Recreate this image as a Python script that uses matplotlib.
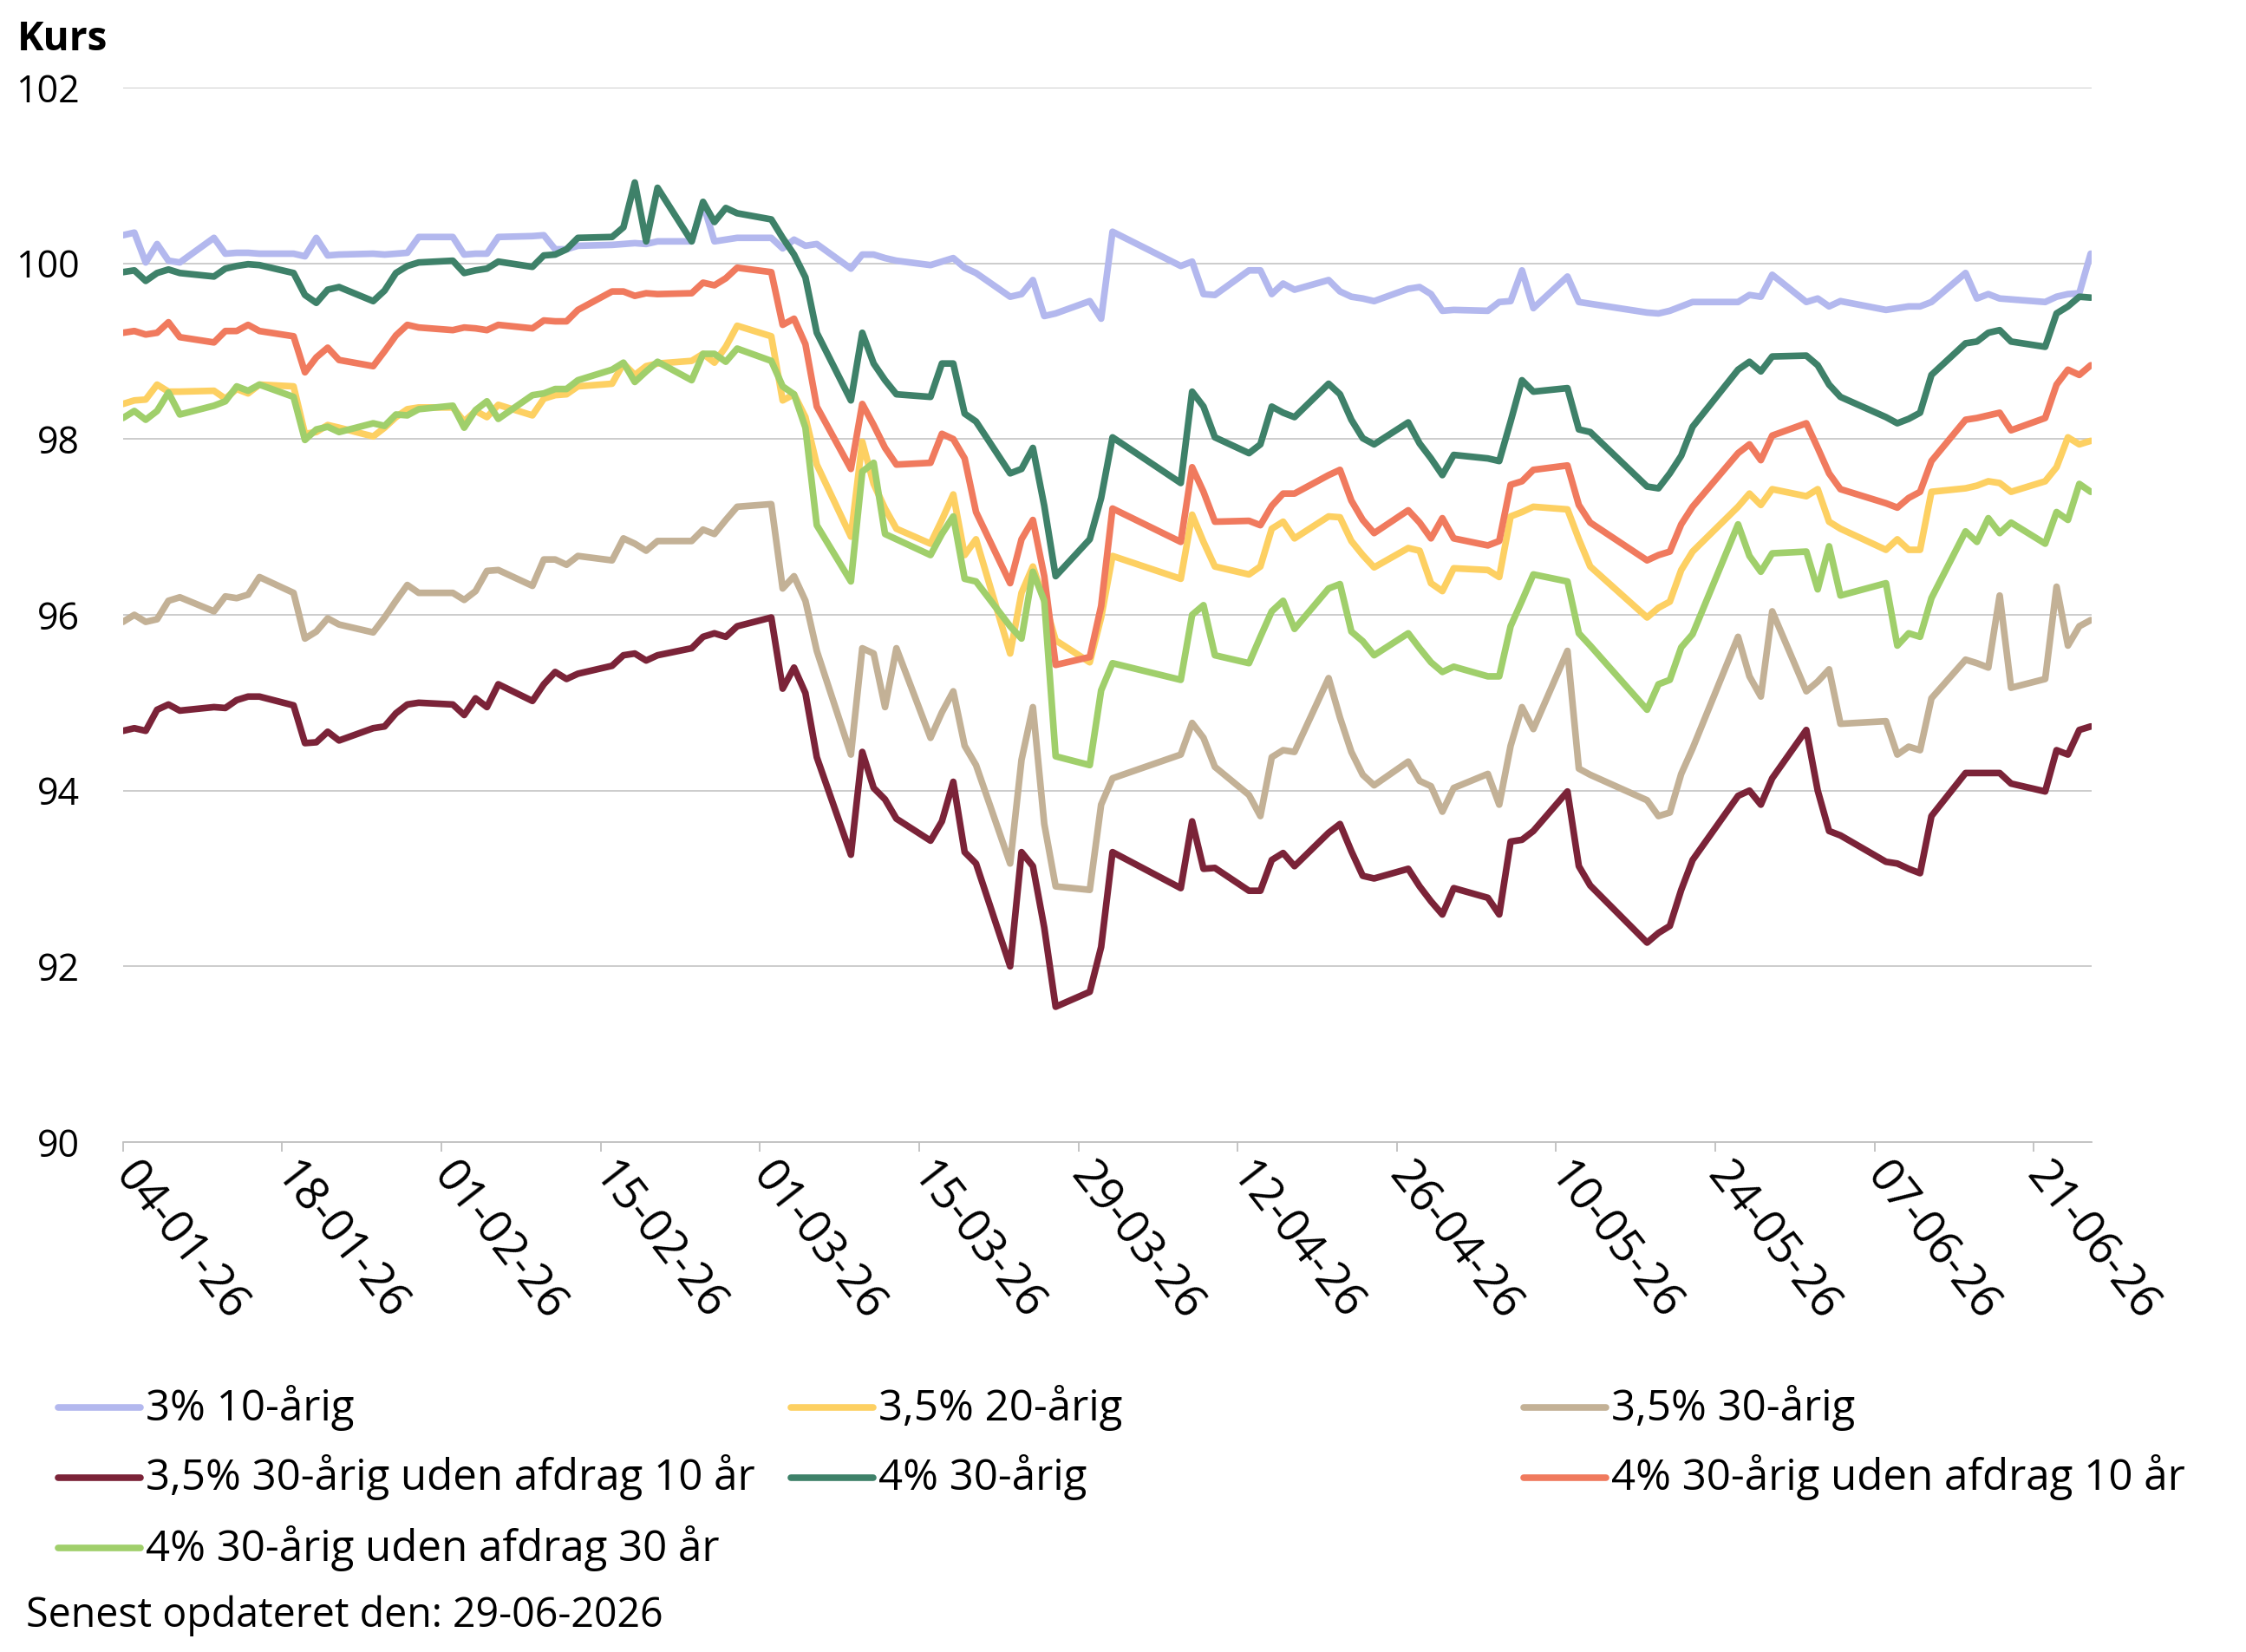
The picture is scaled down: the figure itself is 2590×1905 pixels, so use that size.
import numpy as np
import pandas as pd
import matplotlib
matplotlib.use('Agg')
import matplotlib.pyplot as plt
import matplotlib.dates as mdates
from matplotlib.lines import Line2D

plt.rcParams['font.family'] = ['Open Sans', 'DejaVu Sans']

# trading days shown in the chart (Danish bank holidays removed)
holidays = ['2026-04-02', '2026-04-03', '2026-04-06', '2026-05-14',
            '2026-05-15', '2026-05-25', '2026-06-05']
dates = pd.DatetimeIndex(['2026-01-04']).append(pd.bdate_range('2026-01-05', '2026-06-26'))
dates = dates.drop(pd.to_datetime(holidays))

labels = ['3% 10-årig', '3,5% 20-årig', '3,5% 30-årig',
          '3,5% 30-årig uden afdrag 10 år', '4% 30-årig',
          '4% 30-årig uden afdrag 10 år', '4% 30-årig uden afdrag 30 år']
colors = ['#B3B8EE', '#FDD062', '#C3B196', '#7B2338', '#3E8169', '#F07A5E', '#A0CF6B']

r3_10 = [100.32, 100.35, 100.01, 100.22, 100.03, 100.01,
         100.29, 100.11, 100.12, 100.12, 100.11,
         100.11, 100.08, 100.29, 100.09, 100.10,
         100.11, 100.10, 100.11, 100.12, 100.30,
         100.30, 100.10, 100.11, 100.11, 100.30,
         100.31, 100.32, 100.16, 100.16, 100.20,
         100.21, 100.22, 100.23, 100.22, 100.25,
         100.25, 100.68, 100.25, 100.27, 100.29,
         100.29, 100.17, 100.27, 100.20, 100.22,
         99.94, 100.10, 100.10, 100.06, 100.03,
         99.98, 100.02, 100.06, 99.95, 99.89,
         99.62, 99.65, 99.81, 99.40, 99.43,
         99.57, 99.37, 100.36,
         99.97, 100.02, 99.65, 99.64,
         99.92, 99.92, 99.65, 99.77, 99.70,
         99.81, 99.68, 99.62, 99.60, 99.57,
         99.71, 99.73, 99.65, 99.46, 99.47,
         99.46, 99.56, 99.57, 99.92, 99.49,
         99.85, 99.56, 99.54,
         99.44, 99.43, 99.46, 99.51, 99.56,
         99.56, 99.64, 99.62, 99.87,
         99.56, 99.60, 99.51, 99.57,
         99.47, 99.49, 99.51, 99.51, 99.56,
         99.89, 99.60, 99.65, 99.60, 99.59,
         99.56, 99.62, 99.65, 99.66, 100.11]

r35_20 = [98.40, 98.44, 98.45, 98.62, 98.54, 98.54,
          98.55, 98.46, 98.57, 98.52, 98.62,
          98.60, 98.06, 98.08, 98.16, 98.13,
          98.03, 98.13, 98.25, 98.34, 98.36,
          98.36, 98.20, 98.32, 98.25, 98.39,
          98.27, 98.46, 98.50, 98.51, 98.60,
          98.63, 98.86, 98.73, 98.83, 98.86,
          98.89, 98.97, 98.87, 99.05, 99.29,
          99.17, 98.44, 98.51, 98.25, 97.71,
          96.89, 97.97, 97.49, 97.21, 96.98,
          96.81, 97.08, 97.37, 96.68, 96.86,
          95.56, 96.25, 96.55, 96.16, 95.71,
          95.46, 95.97, 96.67,
          96.41, 97.14, 96.83, 96.55,
          96.46, 96.55, 96.98, 97.06, 96.87,
          97.12, 97.11, 96.84, 96.68, 96.54,
          96.76, 96.73, 96.36, 96.27, 96.53,
          96.51, 96.43, 97.12, 97.17, 97.23,
          97.20, 96.86, 96.55,
          95.97, 96.08, 96.15, 96.51, 96.72,
          97.23, 97.38, 97.25, 97.43,
          97.35, 97.43, 97.06, 96.98,
          96.74, 96.86, 96.74, 96.74, 97.40,
          97.44, 97.47, 97.52, 97.50, 97.40,
          97.52, 97.68, 98.02, 97.94, 97.98]

r35_30 = [95.92, 96.00, 95.92, 95.95, 96.16, 96.20,
          96.04, 96.21, 96.19, 96.23, 96.43,
          96.25, 95.73, 95.81, 95.96, 95.89,
          95.80, 95.97, 96.16, 96.34, 96.25,
          96.25, 96.17, 96.27, 96.50, 96.51,
          96.33, 96.63, 96.63, 96.57, 96.67,
          96.62, 96.87, 96.81, 96.73, 96.84,
          96.84, 96.97, 96.92, 97.08, 97.23,
          97.26, 96.30, 96.44, 96.16, 95.59,
          94.41, 95.62, 95.56, 94.95, 95.62,
          94.60, 94.89, 95.13, 94.51, 94.29,
          93.17, 94.35, 94.95, 93.62, 92.91,
          92.87, 93.84, 94.14,
          94.41, 94.77, 94.60, 94.27,
          93.95, 93.71, 94.38, 94.46, 94.44,
          95.28, 94.83, 94.44, 94.18, 94.06,
          94.33, 94.11, 94.05, 93.76, 94.03,
          94.19, 93.84, 94.51, 94.95, 94.70,
          95.59, 94.25, 94.18,
          93.89, 93.71, 93.75, 94.19, 94.48,
          95.75, 95.30, 95.07, 96.04,
          95.13, 95.24, 95.38, 94.76,
          94.79, 94.41, 94.50, 94.46, 95.05,
          95.49, 95.45, 95.40, 96.22, 95.17,
          95.27, 96.32, 95.65, 95.87, 95.94]

r35_30_io10 = [94.68, 94.71, 94.68, 94.92, 94.98, 94.91,
               94.95, 94.94, 95.03, 95.07, 95.07,
               94.97, 94.54, 94.55, 94.67, 94.57,
               94.71, 94.73, 94.88, 94.98, 95.00,
               94.98, 94.86, 95.05, 94.95, 95.21,
               95.02, 95.21, 95.35, 95.27, 95.33,
               95.42, 95.54, 95.56, 95.48, 95.54,
               95.62, 95.75, 95.79, 95.75, 95.87,
               95.97, 95.16, 95.40, 95.11, 94.38,
               93.27, 94.44, 94.03, 93.90, 93.68,
               93.43, 93.65, 94.10, 93.30, 93.17,
               92.00, 93.30, 93.14, 92.44, 91.54,
               91.71, 92.22, 93.30,
               92.89, 93.65, 93.11, 93.12,
               92.86, 92.86, 93.21, 93.29, 93.14,
               93.52, 93.62, 93.31, 93.03, 93.00,
               93.11, 92.91, 92.74, 92.59, 92.89,
               92.78, 92.59, 93.42, 93.44, 93.54,
               93.99, 93.14, 92.92,
               92.27, 92.38, 92.46, 92.87, 93.21,
               93.94, 94.00, 93.84, 94.14,
               94.69, 94.00, 93.54, 93.49,
               93.19, 93.17, 93.11, 93.06, 93.71,
               94.20, 94.20, 94.20, 94.20, 94.08,
               93.99, 94.46, 94.41, 94.69, 94.73]

r4_30 = [99.90, 99.92, 99.80, 99.89, 99.93, 99.89,
         99.85, 99.94, 99.97, 99.99, 99.98,
         99.89, 99.64, 99.55, 99.70, 99.73,
         99.57, 99.69, 99.89, 99.97, 100.01,
         100.03, 99.89, 99.92, 99.94, 100.02,
         99.96, 100.09, 100.10, 100.16, 100.29,
         100.30, 100.41, 100.92, 100.25, 100.86,
         100.25, 100.70, 100.47, 100.63, 100.57,
         100.50, 100.29, 100.10, 99.84, 99.21,
         98.44, 99.21, 98.86, 98.67, 98.51,
         98.48, 98.86, 98.86, 98.29, 98.20,
         97.61, 97.66, 97.90, 97.24, 96.44,
         96.86, 97.33, 98.02,
         97.50, 98.54, 98.37, 98.02,
         97.84, 97.94, 98.37, 98.30, 98.25,
         98.63, 98.51, 98.22, 98.01, 97.94,
         98.19, 97.95, 97.78, 97.59, 97.82,
         97.78, 97.75, 98.20, 98.67, 98.54,
         98.58, 98.11, 98.08,
         97.46, 97.44, 97.61, 97.81, 98.14,
         98.79, 98.88, 98.77, 98.94,
         98.95, 98.84, 98.62, 98.48,
         98.25, 98.18, 98.23, 98.30, 98.73,
         99.09, 99.11, 99.21, 99.24, 99.11,
         99.05, 99.43, 99.51, 99.62, 99.61]

r4_30_io10 = [99.21, 99.23, 99.19, 99.21, 99.33, 99.16,
              99.10, 99.23, 99.23, 99.30, 99.23,
              99.17, 98.76, 98.93, 99.04, 98.90,
              98.83, 99.00, 99.18, 99.30, 99.27,
              99.24, 99.27, 99.26, 99.24, 99.30,
              99.26, 99.35, 99.34, 99.34, 99.47,
              99.68, 99.68, 99.63, 99.66, 99.65,
              99.66, 99.78, 99.75, 99.83, 99.95,
              99.90, 99.30, 99.37, 99.08, 98.37,
              97.66, 98.40, 98.16, 97.90, 97.71,
              97.73, 98.06, 98.00, 97.78, 97.17,
              96.36, 96.86, 97.08, 96.44, 95.43,
              95.52, 96.10, 97.21,
              96.83, 97.68, 97.40, 97.06,
              97.07, 97.02, 97.24, 97.38, 97.38,
              97.59, 97.65, 97.30, 97.08, 96.93,
              97.19, 97.05, 96.87, 97.10, 96.87,
              96.79, 96.84, 97.48, 97.52, 97.65,
              97.70, 97.25, 97.05,
              96.62, 96.68, 96.72, 97.03, 97.23,
              97.84, 97.94, 97.76, 98.04,
              98.18, 97.90, 97.61, 97.43,
              97.27, 97.22, 97.33, 97.40, 97.75,
              98.22, 98.24, 98.27, 98.30, 98.10,
              98.24, 98.62, 98.79, 98.73, 98.84]

r4_30_io30 = [98.24, 98.32, 98.22, 98.32, 98.53, 98.28,
              98.38, 98.43, 98.60, 98.55, 98.62,
              98.48, 97.99, 98.11, 98.14, 98.08,
              98.18, 98.15, 98.28, 98.27, 98.34,
              98.38, 98.13, 98.33, 98.43, 98.23,
              98.50, 98.52, 98.57, 98.57, 98.67,
              98.79, 98.87, 98.65, 98.77, 98.88,
              98.67, 98.97, 98.97, 98.88, 99.03,
              98.89, 98.60, 98.51, 98.13, 97.02,
              96.38, 97.63, 97.73, 96.92, 96.86,
              96.68, 96.92, 97.12, 96.41, 96.38,
              95.87, 95.73, 96.49, 96.16, 94.39,
              94.29, 95.14, 95.45,
              95.26, 96.00, 96.11, 95.54,
              95.45, 95.75, 96.04, 96.16, 95.84,
              96.30, 96.35, 95.81, 95.70, 95.54,
              95.79, 95.62, 95.46, 95.35, 95.41,
              95.30, 95.30, 95.87, 96.16, 96.46,
              96.38, 95.79, 95.65,
              94.92, 95.21, 95.26, 95.63, 95.78,
              97.03, 96.67, 96.49, 96.70,
              96.72, 96.29, 96.78, 96.22,
              96.36, 95.65, 95.79, 95.75, 96.19,
              96.95, 96.83, 97.10, 96.93, 97.05,
              96.81, 97.17, 97.08, 97.49, 97.40]

series = [r3_10, r35_20, r35_30, r35_30_io10, r4_30, r4_30_io10, r4_30_io30]

fig = plt.figure(figsize=(25.9, 19.05), dpi=100)
ax = fig.add_axes([0.05475, 0.30866, 0.87652, 0.63832])

for vals, lab, col in zip(series, labels, colors):
    ax.plot(dates, vals, color=col, lw=5.5, label=lab,
            solid_capstyle='round', solid_joinstyle='round')

ax.set_ylim(90, 102)
ax.set_yticks(np.arange(90, 103, 2))
ax.set_xlim(pd.Timestamp('2026-01-04'), pd.Timestamp('2026-06-26 02:00'))
ax.set_xticks(pd.date_range('2026-01-04', '2026-06-26', freq='14D'))
ax.xaxis.set_major_formatter(mdates.DateFormatter('%d-%m-%y'))

ax.grid(axis='y', color='#C8C8C8', lw=1.3)
ax.set_axisbelow(True)
for s in ['top', 'right', 'left']:
    ax.spines[s].set_visible(False)
ax.spines['bottom'].set_color('#BFBFBF')
ax.spines['bottom'].set_linewidth(1.3)

ax.tick_params(axis='y', length=0, pad=36, labelsize=31)
ax.tick_params(axis='x', length=8, width=1.3, color='#BFBFBF', pad=14, labelsize=38)
for t in ax.get_xticklabels():
    t.set_rotation(-52)
    t.set_ha('left')
    t.set_va('center')
    t.set_rotation_mode('anchor')

fig.text(20 / 2590, 1 - 46 / 1905, 'Kurs', fontsize=33, fontweight='bold', va='center', ha='left')

# legend laid out row by row, three columns
col_x = [67, 912, 1757]
row_y = [1623, 1704, 1785]
for i, (lab, col) in enumerate(zip(labels, colors)):
    x0 = col_x[i % 3]
    y0 = 1 - row_y[i // 3] / 1905
    fig.add_artist(Line2D([x0 / 2590, (x0 + 95) / 2590], [y0, y0], color=col, lw=5.5,
                          solid_capstyle='round', transform=fig.transFigure))
    fig.text((x0 + 101) / 2590, y0, lab, fontsize=35.5, va='center', ha='left')

fig.text(30 / 2590, 1 - 1863 / 1905, 'Senest opdateret den: 29-06-2026', fontsize=33.5,
         va='center', ha='left')

fig.savefig('out.png', dpi=100)
